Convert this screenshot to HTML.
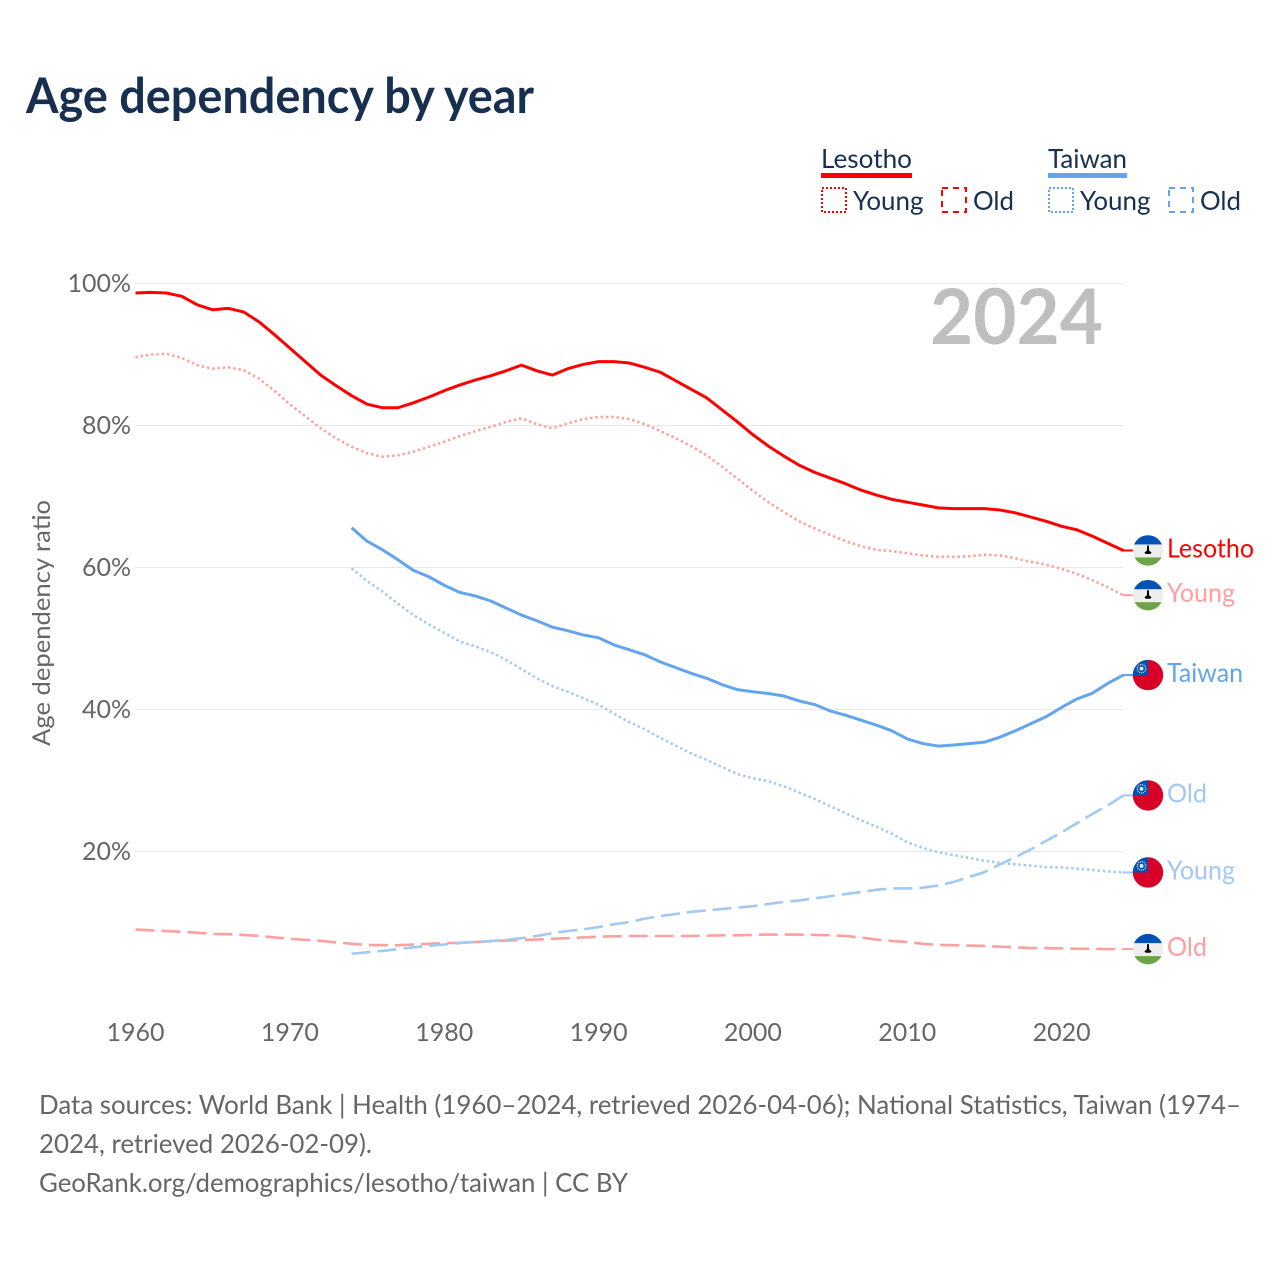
<!DOCTYPE html>
<html lang="en">
<head>
<meta charset="utf-8">
<title>Age dependency by year</title>
<style>
html,body{margin:0;padding:0;background:#fff;}
svg{display:block;}
text{font-family:"Lato","Carlito","Liberation Sans",sans-serif;}
</style>
</head>
<body>
<svg id="chart" xmlns="http://www.w3.org/2000/svg" width="1280" height="1280" viewBox="0 0 1280 1280">
  <defs>
    <clipPath id="flag-clip"><circle cx="0" cy="0" r="15.2"/></clipPath>
    <g id="flag-lesotho" clip-path="url(#flag-clip)">
      <rect x="-16" y="-16" width="32" height="32" fill="#eeeeee"/>
      <rect x="-16" y="-16" width="32" height="10" fill="#0052b4"/>
      <rect x="-16" y="7" width="32" height="9" fill="#6da544"/>
      <path d="M-0.9,-5 L0.9,-5 L1.1,0 L3.6,2.2 L2.2,3.6 L-2.2,3.6 L-3.6,2.2 L-1.1,0 Z" fill="#000"/>
    </g>
    <g id="flag-taiwan" clip-path="url(#flag-clip)">
      <rect x="-16" y="-16" width="32" height="32" fill="#d80027"/>
      <rect x="-16" y="-16" width="16" height="16" fill="#0052b4"/>
      <circle cx="-6.5" cy="-6.5" r="4.2" fill="none" stroke="#eeeeee" stroke-width="1.2" stroke-dasharray="1 1"/>
      <circle cx="-6.5" cy="-6.5" r="1.9" fill="#eeeeee"/>
    </g>
  </defs>
  <rect x="0" y="0" width="1280" height="1280" fill="#ffffff"/>
  <text x="26" y="113" font-size="48.5" font-weight="700" fill="#17304f" textLength="508" lengthAdjust="spacingAndGlyphs">Age dependency by year</text>

  <g>
    <text x="821" y="168" font-size="26.5" fill="#17304f" textLength="91" lengthAdjust="spacingAndGlyphs">Lesotho</text>
    <rect x="821" y="173" width="91" height="5" fill="#ff0000"/>
    <rect x="822" y="188" width="24" height="24" fill="none" stroke="#ff0000" stroke-width="2" stroke-dasharray="2 2"/>
    <text x="853" y="210" font-size="26.5" fill="#17304f" textLength="70.5" lengthAdjust="spacingAndGlyphs">Young</text>
    <rect x="942" y="188" width="24" height="24" fill="none" stroke="#ff0000" stroke-width="2" stroke-dasharray="6 5"/>
    <text x="973" y="210" font-size="26.5" fill="#17304f" textLength="41" lengthAdjust="spacingAndGlyphs">Old</text>
    <text x="1048" y="168" font-size="26.5" fill="#17304f" textLength="79" lengthAdjust="spacingAndGlyphs">Taiwan</text>
    <rect x="1048" y="173" width="79" height="5" fill="#63a5ec"/>
    <rect x="1049" y="188" width="24" height="24" fill="none" stroke="#63a5ec" stroke-width="2" stroke-dasharray="2 2"/>
    <text x="1080" y="210" font-size="26.5" fill="#17304f" textLength="70.5" lengthAdjust="spacingAndGlyphs">Young</text>
    <rect x="1169" y="188" width="24" height="24" fill="none" stroke="#63a5ec" stroke-width="2" stroke-dasharray="6 5"/>
    <text x="1200" y="210" font-size="26.5" fill="#17304f" textLength="41" lengthAdjust="spacingAndGlyphs">Old</text>
  </g>

  <g id="grid"></g>
  <text x="1103" y="344" text-anchor="end" font-size="77" font-weight="700" fill="#bfbfbf" textLength="173" lengthAdjust="spacingAndGlyphs">2024</text>
  <g id="y-ticks"></g>
  <g id="x-ticks"></g>
  <text transform="translate(50,623) rotate(-90)" text-anchor="middle" font-size="24.5" fill="#666666" textLength="246" lengthAdjust="spacingAndGlyphs">Age dependency ratio</text>
  <g id="series"></g>
  <g id="end-labels"></g>

  <g>
    <text x="39" y="1114" font-size="26.5" fill="#666666" textLength="1202" lengthAdjust="spacingAndGlyphs">Data sources: World Bank | Health (1960–2024, retrieved 2026-04-06); National Statistics, Taiwan (1974–</text>
    <text x="39" y="1153" font-size="26.5" fill="#666666" textLength="333" lengthAdjust="spacingAndGlyphs">2024, retrieved 2026-02-09).</text>
    <text x="39" y="1192" font-size="26.5" fill="#666666" textLength="589" lengthAdjust="spacingAndGlyphs">GeoRank.org/demographics/lesotho/taiwan | CC BY</text>
  </g>
</svg>
<script>
const yTickValues = [20, 40, 60, 80, 100];
const xTickValues = [1960, 1970, 1980, 1990, 2000, 2010, 2020];

const lesothoStartYear = 1960;
const taiwanStartYear = 1974;

const lesothoTotal = [98.66,98.75,98.66,98.2,97,96.3,96.5,96,94.6,92.8,90.9,89,87.1,85.6,84.2,83,82.5,82.5,83.2,84,84.9,85.7,86.4,87,87.7,88.5,87.7,87.1,88,88.6,89,89,88.8,88.2,87.5,86.3,85.1,83.9,82.2,80.5,78.7,77.1,75.7,74.4,73.4,72.6,71.8,70.9,70.2,69.6,69.2,68.8,68.4,68.3,68.3,68.3,68.1,67.7,67.1,66.5,65.8,65.3,64.4,63.4,62.4];
const lesothoYoung = [89.6,90,90.1,89.5,88.5,88,88.2,87.8,86.6,84.9,83,81.3,79.6,78.2,77,76.1,75.6,75.8,76.3,77,77.7,78.5,79.2,79.8,80.5,81,80.2,79.6,80.3,80.9,81.2,81.2,80.9,80.2,79.2,78.2,77.1,75.8,74.2,72.5,70.8,69.2,67.8,66.5,65.5,64.6,63.7,63,62.5,62.3,62,61.7,61.5,61.5,61.6,61.8,61.7,61.3,60.8,60.4,59.8,59.1,58.2,57.2,56.1];
const lesothoOld = [9,8.9,8.8,8.7,8.55,8.4,8.35,8.25,8.1,7.9,7.7,7.55,7.4,7.2,7,6.85,6.8,6.8,6.9,7,7.1,7.15,7.25,7.35,7.45,7.55,7.6,7.7,7.8,7.9,8,8.05,8.1,8.1,8.1,8.1,8.1,8.15,8.2,8.2,8.25,8.3,8.3,8.3,8.25,8.2,8.1,7.9,7.6,7.4,7.25,7,6.85,6.8,6.75,6.7,6.6,6.5,6.4,6.4,6.35,6.3,6.3,6.25,6.25];

const taiwanTotal = [65.6,63.7,62.5,61.1,59.6,58.7,57.5,56.5,56,55.3,54.3,53.3,52.5,51.6,51.1,50.5,50.1,49.1,48.4,47.7,46.7,45.9,45.1,44.4,43.5,42.8,42.5,42.25,41.9,41.2,40.7,39.8,39.2,38.5,37.8,37,35.85,35.2,34.85,35,35.2,35.4,36.1,37,38,39,40.3,41.5,42.3,43.7,44.85];
const taiwanYoung = [59.9,58.1,56.6,54.9,53.3,52,50.8,49.6,48.9,48.1,47,45.7,44.4,43.3,42.5,41.6,40.7,39.4,38.2,37.2,36,34.9,33.8,32.9,31.9,30.9,30.3,29.9,29.2,28.3,27.4,26.4,25.4,24.4,23.5,22.5,21.3,20.5,19.9,19.5,19.1,18.7,18.4,18.2,18,17.8,17.75,17.6,17.4,17.2,17.05];
const taiwanOld = [5.6,5.8,6,6.25,6.5,6.7,6.9,7.1,7.25,7.4,7.55,7.8,8.1,8.5,8.8,9.05,9.35,9.75,10.05,10.55,10.9,11.2,11.5,11.7,11.9,12.1,12.3,12.6,12.9,13.1,13.4,13.7,14,14.3,14.6,14.8,14.8,14.9,15.2,15.7,16.4,17.1,18.2,19.2,20.3,21.5,22.7,24,25.3,26.5,27.9];

const endLabelNames = ["Lesotho", "Young", "Taiwan", "Old", "Young", "Old"];

const SVG_NS = "http://www.w3.org/2000/svg";
const plot = { left: 135.5, right: 1123.4, zeroY: 993.5, pxPerUnit: 7.1 };
function xScale(year) { return plot.left + (year - 1960) * (plot.right - plot.left) / 64; }
function yScale(value) { return plot.zeroY - value * plot.pxPerUnit; }
function make(tag, attrs, parent) {
  const el = document.createElementNS(SVG_NS, tag);
  for (const k in attrs) el.setAttribute(k, attrs[k]);
  parent.appendChild(el);
  return el;
}

const grid = document.getElementById("grid");
const yTicks = document.getElementById("y-ticks");
const xTicks = document.getElementById("x-ticks");
const seriesLayer = document.getElementById("series");
const endLayer = document.getElementById("end-labels");

yTickValues.forEach(function (v) {
  const line = make("line", { x1: plot.left, x2: plot.right, y1: yScale(v), y2: yScale(v), stroke: "#e8e8e8", "stroke-width": 1 }, grid);
  
  
  const label = make("text", { x: 131, y: yScale(v) + 8.5, "text-anchor": "end", "font-size": 25, fill: "#666666" }, yTicks);
  
  
  label.textContent = v + "%";
});

xTickValues.forEach(function (year) {
  const label = make("text", { x: xScale(year), y: 1041, "text-anchor": "middle", "font-size": 25, fill: "#666666" }, xTicks);
  
  
  label.textContent = year;
});

function drawLine(values, startYear, color, width, dash, name) {
  const pts = values.map(function (v, i) { return xScale(startYear + i).toFixed(2) + "," + yScale(v).toFixed(2); });
  const path = make("polyline", { points: pts.join(" "), fill: "none", stroke: color, "stroke-width": width, "stroke-linejoin": "round" }, seriesLayer);
  if (dash) path.setAttribute("stroke-dasharray", dash);
  
  
  const last = yScale(values[values.length - 1]);
  const stub = make("line", { x1: plot.right - 1, x2: plot.right + 10, y1: last, y2: last, stroke: color, "stroke-width": 2 }, seriesLayer);
  
  
}

const RED = "#ff0000", RED_LIGHT = "#ff9f9f", BLUE = "#63a5ec", BLUE_LIGHT = "#a1c9f4";
const DOT = "2.4 2.9", DASH = "19 7";
drawLine(lesothoOld, lesothoStartYear, RED_LIGHT, 2.6, DASH, "line-lesotho-old");
drawLine(taiwanOld, taiwanStartYear, BLUE_LIGHT, 2.6, DASH, "line-taiwan-old");
drawLine(lesothoYoung, lesothoStartYear, RED_LIGHT, 2.6, DOT, "line-lesotho-young");
drawLine(taiwanYoung, taiwanStartYear, BLUE_LIGHT, 2.6, DOT, "line-taiwan-young");
drawLine(taiwanTotal, taiwanStartYear, BLUE, 3, null, "line-taiwan-total");
drawLine(lesothoTotal, lesothoStartYear, RED, 3, null, "line-lesotho-total");

function drawEnd(values, labelIndex, flag, color, name) {
  const y = yScale(values[values.length - 1]);
  const use = make("use", { href: "#flag-" + flag, x: 1148, y: y }, endLayer);
  
  
  const label = make("text", { x: 1167, y: y + 7, "font-size": 26.5, fill: color }, endLayer);
  
  
  label.textContent = endLabelNames[labelIndex];
  const targetWidths = { Lesotho: 87, Young: 68, Taiwan: 76, Old: 40 };
  label.setAttribute("textLength", targetWidths[endLabelNames[labelIndex]]);
  label.setAttribute("lengthAdjust", "spacingAndGlyphs");
}
drawEnd(lesothoTotal, 0, "lesotho", RED, "end-lesotho-total");
drawEnd(lesothoYoung, 1, "lesotho", RED_LIGHT, "end-lesotho-young");
drawEnd(taiwanTotal, 2, "taiwan", BLUE, "end-taiwan-total");
drawEnd(taiwanOld, 3, "taiwan", BLUE_LIGHT, "end-taiwan-old");
drawEnd(taiwanYoung, 4, "taiwan", BLUE_LIGHT, "end-taiwan-young");
drawEnd(lesothoOld, 5, "lesotho", RED_LIGHT, "end-lesotho-old");
</script>
</body>
</html>
